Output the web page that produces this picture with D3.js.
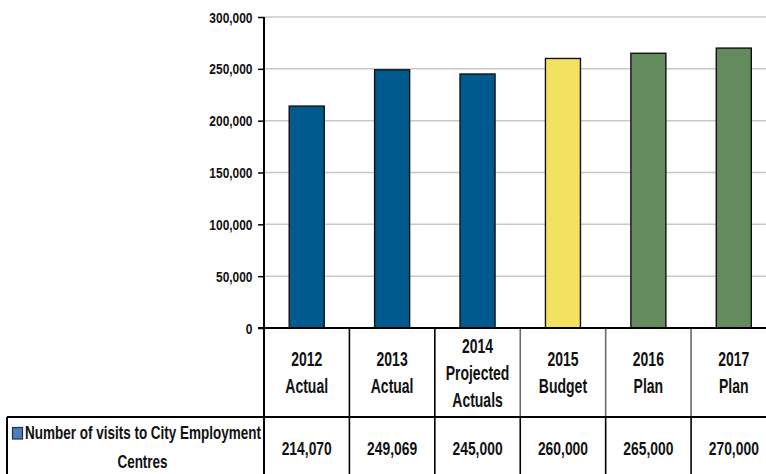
<!DOCTYPE html>
<html>
<head>
<meta charset="utf-8">
<script src="https://cdn.jsdelivr.net/npm/d3@7/dist/d3.min.js"></script>
<style>
  html, body { margin: 0; padding: 0; background: #fff; }
  svg { display: block; }
  text { font-family: "Liberation Sans", Arial, sans-serif; font-weight: bold; fill: #111; }
</style>
</head>
<body>
<svg id="chart" width="766" height="474"></svg>
<script>
// ---- data ----
const categories = ["2012 Actual", "2013 Actual", "2014 Projected Actuals", "2015 Budget", "2016 Plan", "2017 Plan"];
const categoryLines = [["2012", "Actual"], ["2013", "Actual"], ["2014", "Projected", "Actuals"], ["2015", "Budget"], ["2016", "Plan"], ["2017", "Plan"]];
const values = [214070, 249069, 245000, 260000, 265000, 270000];
const valueLabels = ["214,070", "249,069", "245,000", "260,000", "265,000", "270,000"];
const barColors = ["#005A8E", "#005A8E", "#005A8E", "#F3E260", "#638B5E", "#638B5E"];
const yTicks = [0, 50000, 100000, 150000, 200000, 250000, 300000];
const seriesName = ["Number of visits to City Employment", "Centres"];

// ---- layout ----
const svg = d3.select("#chart");
const W = 766, H = 474;
const plotLeft = 264, plotRight = 776.5, plotTop = 17, base = 328, rowSplit = 417, tableLeft = 7;

const x = d3.scaleBand().domain(categories).range([plotLeft, plotRight]).paddingInner(0).paddingOuter(0);
const y = d3.scaleLinear().domain([0, 300000]).range([base, plotTop]);
const barW = x.bandwidth() * 0.41;

function scaledText(g, px, py, str, size, sx, anchor) {
  return g.append("text")
    .attr("transform", `translate(${px},${py}) scale(${sx},1)`)
    .attr("text-anchor", anchor || "middle")
    .style("font-size", size + "px")
    .text(str);
}

// gridlines
svg.append("g").selectAll("line").data(yTicks.filter(d => d > 0)).join("line")
  .attr("x1", plotLeft).attr("x2", W)
  .attr("y1", d => y(d)).attr("y2", d => y(d))
  .attr("stroke", "#C8C8C8").attr("stroke-width", 1.5);

// bars
svg.append("g").selectAll("rect").data(values).join("rect")
  .attr("x", (d, i) => x(categories[i]) + (x.bandwidth() - barW) / 2)
  .attr("y", d => y(d))
  .attr("width", barW)
  .attr("height", d => base - y(d))
  .attr("fill", (d, i) => barColors[i])
  .attr("stroke", "#111").attr("stroke-width", 1.4);

// y axis
const yAxis = d3.axisLeft(y).tickValues(yTicks).tickFormat(d3.format(",")).tickSize(6).tickPadding(5);
const ga = svg.append("g").attr("transform", `translate(${plotLeft},0)`).call(yAxis);
ga.select(".domain").remove();
ga.selectAll(".tick line").attr("stroke", "#000").attr("stroke-width", 1.5);
ga.selectAll(".tick text").remove();
yTicks.forEach(t => {
  scaledText(svg, plotLeft - 11.5, y(t) + 5.5, d3.format(",")(t), 15.5, 0.77, "end");
});

// table grid
const tg = svg.append("g");
categories.forEach((c, i) => {
  const xx = x(c);
  if (xx <= plotLeft) return;
  tg.append("line").attr("x1", xx).attr("x2", xx).attr("y1", base).attr("y2", rowSplit)
    .attr("stroke", i >= 3 ? "#6a6a6a" : "#000").attr("stroke-width", 1.6);
  tg.append("line").attr("x1", xx).attr("x2", xx).attr("y1", rowSplit).attr("y2", H)
    .attr("stroke", "#000").attr("stroke-width", 1.6);
});
tg.append("line").attr("x1", plotLeft).attr("x2", plotLeft).attr("y1", plotTop).attr("y2", H).attr("stroke", "#000").attr("stroke-width", 2);
tg.append("line").attr("x1", plotLeft - 6).attr("x2", W).attr("y1", base).attr("y2", base).attr("stroke", "#000").attr("stroke-width", 2);
tg.append("line").attr("x1", tableLeft).attr("x2", W).attr("y1", rowSplit).attr("y2", rowSplit).attr("stroke", "#000").attr("stroke-width", 2);
tg.append("line").attr("x1", tableLeft).attr("x2", tableLeft).attr("y1", rowSplit).attr("y2", H).attr("stroke", "#000").attr("stroke-width", 2);

// category labels
const lineGap = 27;
categoryLines.forEach((lines, i) => {
  const cx = x(categories[i]) + x.bandwidth() / 2;
  const mid = (base + rowSplit) / 2;
  const firstBase = mid + 7 - (lines.length - 1) * lineGap / 2;
  lines.forEach((ln, j) => {
    scaledText(svg, cx, firstBase + j * lineGap, ln, 20, 0.70);
  });
});

// value labels
valueLabels.forEach((v, i) => {
  const cx = x(categories[i]) + x.bandwidth() / 2;
  scaledText(svg, cx, 455, v, 19, 0.73);
});

// legend cell
svg.append("rect").attr("x", 12.5).attr("y", 427.5).attr("width", 10).attr("height", 11.5)
  .attr("fill", "#4A7EBB").attr("stroke", "#1F3050").attr("stroke-width", 1.2);
scaledText(svg, 25, 439, seriesName[0], 18, 0.75, "start");
scaledText(svg, 142.5, 468, seriesName[1], 18, 0.75, "middle");
</script>
</body>
</html>
